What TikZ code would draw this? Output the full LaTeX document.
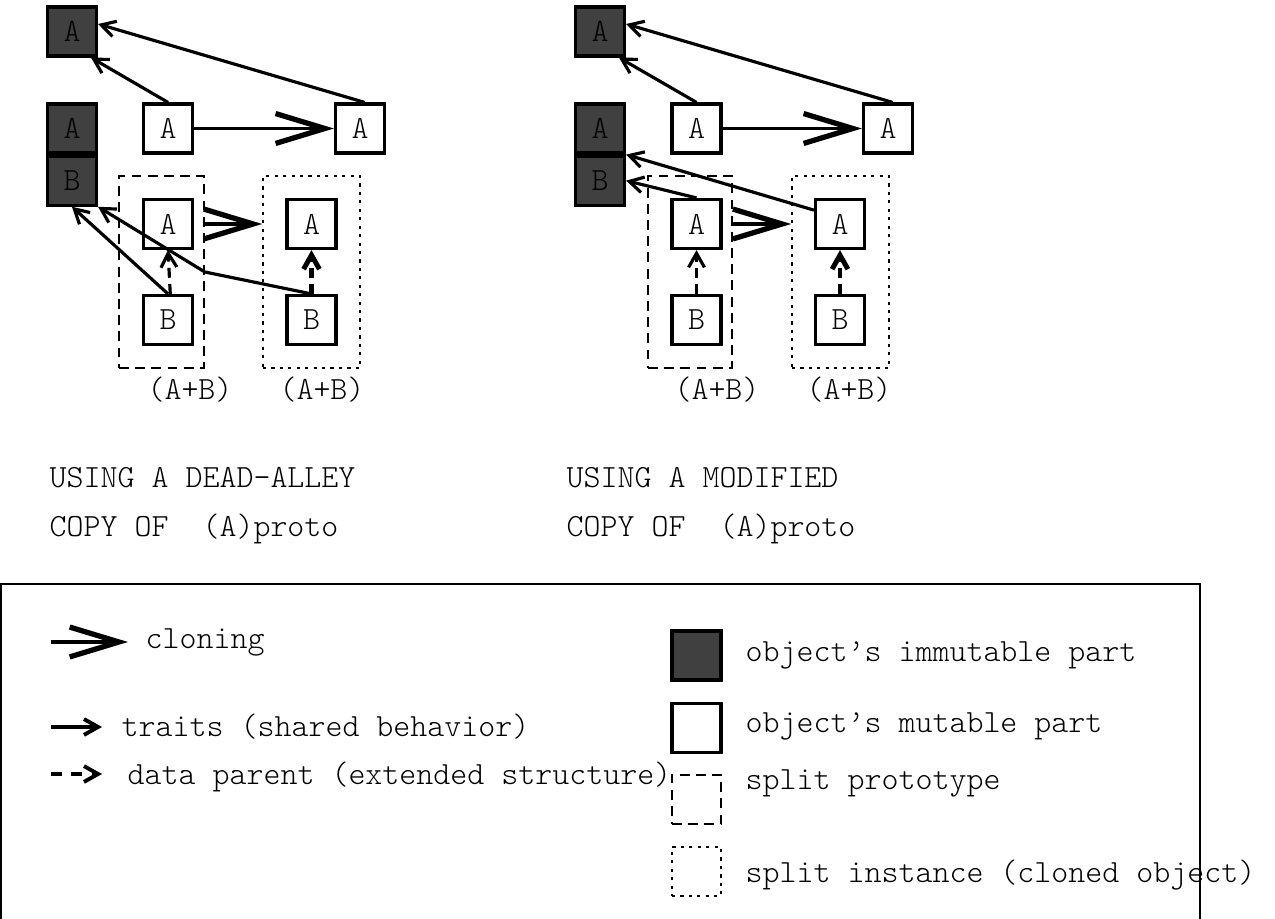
\documentclass[tikz,border=0pt]{standalone}
\usepackage{fontspec}
\setmonofont{Latin Modern Mono Light}
\usetikzlibrary{arrows.meta}
\newcommand\selffont{\fontsize{9.2pt}{11pt}\selectfont\ttfamily}

\begin{document}
\begin{tikzpicture}[x=0.01cm,y=-0.01cm,
    every node/.style={font=\selffont},
    obj/.style={draw,line width=0.9pt,minimum size=0.49cm,inner sep=0pt,fill=white},
    fixed/.style={obj,fill=black!75},
    proto/.style={draw,line width=0.45pt,dash pattern=on 2.8pt off 1.8pt,inner sep=0pt,minimum height=1.92cm},
    inst/.style={draw,line width=0.45pt,dash pattern=on 0.9pt off 1.5pt,inner sep=0pt,minimum height=1.92cm},
    traits/.style={line width=0.9pt,-{Straight Barb[length=4pt,width=4.5pt]}},
    parent/.style={traits,dash pattern=on 2.8pt off 1.8pt},
    clone/.style={line width=1.1pt,-{Straight Barb[length=14pt,width=8.5pt,line width'=1.5pt]}},
    txt/.style={anchor=base west,inner sep=0pt}]
        \useasboundingbox (0,0) rectangle (1275,919);
        \clip (0,0) rectangle (1275,919);
        %
        % dead-alley copy
        \node [fixed] (lTop) at (72,31.5) {A};
        \node [fixed] (lImA) at (72,128.5) {A};
        \node [fixed,anchor=north] (lImB) at (lImA.south) {B};
        \node [proto,minimum width=0.85cm] (lProto) at (161.5,272) {};
        \node [inst,minimum width=0.97cm] (lInst) at (311.5,272) {};
        \node [obj] (lA) at (168,128.5) {A};
        \node [obj] (lAc) at (360,128.5) {A};
        \node [obj] (lPA) at (168,224) {A};
        \node [obj] (lPB) at (168,320) {B};
        \node [obj] (lIA) at (311.5,224) {A};
        \node [obj] (lIB) at (311.5,320) {B};
        \node [anchor=base,inner sep=0pt] (lSumP) at (190,400) {(A+B)};
        \node [anchor=base,inner sep=0pt] (lSumI) at (322,400) {(A+B)};
        %
        \draw [traits] (lA.north) -- (lTop.-54);
        \draw [traits] (lAc.80) -- (lTop.16);
        \draw [clone] (lA.east) -- (lAc.west);
        \draw [clone] (lProto.east |- lPA) -- (lInst.west |- lPA);
        \draw [traits] (lPB.north) -- (lImB.south);
        \draw [traits] (lIB.north) -- (lProto.east) -- (lImB.south east);
        \draw [parent] (lPB.85) -- (lPA.south);
        \draw [parent,line width=1.4pt] (lIB.north) -- (lIA.south);
        %
        \node [txt] (lCap1) at (49,488) {USING A DEAD-ALLEY};
        \node [txt] (lCap2) at (49,537) {COPY OF\ \ (A)proto};
        %
        % modified copy
        \node [fixed] (rTop) at (600,31.5) {A};
        \node [fixed] (rImA) at (600,128.5) {A};
        \node [fixed,anchor=north] (rImB) at (rImA.south) {B};
        \node [proto,minimum width=0.84cm] (rProto) at (690,272) {};
        \node [inst,minimum width=0.97cm] (rInst) at (840.5,272) {};
        \node [obj] (rA) at (696.5,128.5) {A};
        \node [obj] (rAc) at (888,128.5) {A};
        \node [obj] (rPA) at (696.5,224) {A};
        \node [obj] (rPB) at (696.5,320) {B};
        \node [obj] (rIA) at (840,224) {A};
        \node [obj] (rIB) at (840,320) {B};
        \node [anchor=base,inner sep=0pt] (rSumP) at (717,400) {(A+B)};
        \node [anchor=base,inner sep=0pt] (rSumI) at (849,400) {(A+B)};
        %
        \draw [traits] (rA.north) -- (rTop.-54);
        \draw [traits] (rAc.80) -- (rTop.16);
        \draw [clone] (rA.east) -- (rAc.west);
        \draw [clone] (rProto.east |- rPA) -- (rInst.west |- rPA);
        \draw [traits] (rPA.north) -- (rImB.east);
        \draw [traits] (rIA.152) -- (rImB.north east);
        \draw [parent] (rPB.north) -- (rPA.south);
        \draw [parent,line width=1.4pt] (rIB.north) -- (rIA.south);
        %
        \node [txt] (rCap1) at (566,488) {USING A MODIFIED};
        \node [txt] (rCap2) at (566,537) {COPY OF\ \ (A)proto};
        %
        % legend
        \draw [line width=0.4pt] (1,584) rectangle (1200,930);
        \coordinate (kClone0) at (51,642);
        \coordinate (kClone1) at (128,642);
        \coordinate (kTraits0) at (51,727);
        \coordinate (kTraits1) at (102,727);
        \coordinate (kParent0) at (51,774);
        \coordinate (kParent1) at (102,774);
        \draw [clone,line width=1.4pt] (kClone0) -- (kClone1);
        \draw [traits,line width=1.1pt] (kTraits0) -- (kTraits1);
        \draw [parent,line width=1.1pt,dash pattern=on 3pt off 2.8pt] (kParent0) -- (kParent1);
        \node [txt] (kCloneT) at (145,649) {cloning};
        \node [txt] (kTraitsT) at (121,737) {traits (shared behavior)};
        \node [txt] (kParentT) at (127,785) {data parent (extended structure)};
        %
        \node [fixed] (kFixed) at (696.5,655.5) {};
        \node [obj] (kMut) at (696.5,728) {};
        \node [proto,minimum width=0.49cm,minimum height=0.49cm] (kProto) at (696.5,799.5) {};
        \node [inst,minimum width=0.49cm,minimum height=0.49cm] (kInst) at (696.5,871.5) {};
        \node [txt] (kFixedT) at (745,662) {object’s immutable part};
        \node [txt] (kMutT) at (745,733) {object’s mutable part};
        \node [txt] (kProtoT) at (745,790) {split prototype};
        \node [txt] (kInstT) at (745,883) {split instance (cloned object)};
      \end{tikzpicture}
\end{document}
